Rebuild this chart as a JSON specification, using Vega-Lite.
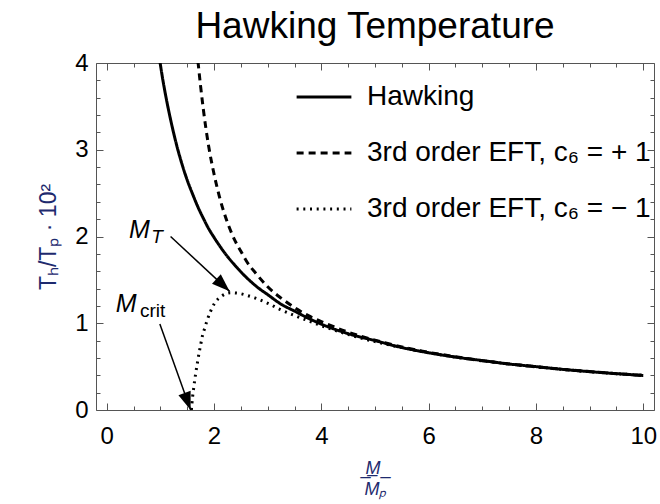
{
  "$schema": "https://vega.github.io/schema/vega-lite/v6.json",
  "width": 558,
  "height": 347,
  "autosize": {"type": "none"},
  "padding": {"left": 96, "top": 63, "right": 6, "bottom": 94},
  "background": "white",
  "title": {"text": "Hawking Temperature", "fontSize": 37, "font": "Liberation Sans", "fontWeight": "normal", "color": "black", "anchor": "middle", "frame": "group", "baseline": "alphabetic", "offset": -24},
  "config": {
    "view": {"stroke": "#555555", "strokeWidth": 1},
    "font": "Liberation Sans",
    "axis": {"grid": false, "domain": false, "tickColor": "#555555", "tickWidth": 1, "labelFont": "Liberation Sans", "labelFontSize": 24, "labelColor": "black", "labelOverlap": false, "labelFlush": false, "labelBound": false}
  },
  "datasets": {
    "curves": [
      {"M": 0.99, "T": 4.02, "series": "Hawking"},
      {"M": 1.05, "T": 3.79, "series": "Hawking"},
      {"M": 1.1, "T": 3.62, "series": "Hawking"},
      {"M": 1.2, "T": 3.32, "series": "Hawking"},
      {"M": 1.3, "T": 3.06, "series": "Hawking"},
      {"M": 1.4, "T": 2.84, "series": "Hawking"},
      {"M": 1.5, "T": 2.65, "series": "Hawking"},
      {"M": 1.6, "T": 2.49, "series": "Hawking"},
      {"M": 1.7, "T": 2.34, "series": "Hawking"},
      {"M": 1.8, "T": 2.21, "series": "Hawking"},
      {"M": 1.9, "T": 2.09, "series": "Hawking"},
      {"M": 2.0, "T": 1.99, "series": "Hawking"},
      {"M": 2.2, "T": 1.81, "series": "Hawking"},
      {"M": 2.4, "T": 1.66, "series": "Hawking"},
      {"M": 2.6, "T": 1.53, "series": "Hawking"},
      {"M": 2.8, "T": 1.42, "series": "Hawking"},
      {"M": 3.0, "T": 1.33, "series": "Hawking"},
      {"M": 3.25, "T": 1.22, "series": "Hawking"},
      {"M": 3.5, "T": 1.14, "series": "Hawking"},
      {"M": 3.75, "T": 1.06, "series": "Hawking"},
      {"M": 4.0, "T": 0.99, "series": "Hawking"},
      {"M": 4.5, "T": 0.88, "series": "Hawking"},
      {"M": 5.0, "T": 0.80, "series": "Hawking"},
      {"M": 5.5, "T": 0.72, "series": "Hawking"},
      {"M": 6.0, "T": 0.66, "series": "Hawking"},
      {"M": 6.5, "T": 0.61, "series": "Hawking"},
      {"M": 7.0, "T": 0.57, "series": "Hawking"},
      {"M": 7.5, "T": 0.53, "series": "Hawking"},
      {"M": 8.0, "T": 0.50, "series": "Hawking"},
      {"M": 8.5, "T": 0.468, "series": "Hawking"},
      {"M": 9.0, "T": 0.442, "series": "Hawking"},
      {"M": 9.5, "T": 0.419, "series": "Hawking"},
      {"M": 10.0, "T": 0.398, "series": "Hawking"},
      {"M": 1.70, "T": 4.02, "series": "3rd order EFT, c₆ = + 1"},
      {"M": 1.75, "T": 3.73, "series": "3rd order EFT, c₆ = + 1"},
      {"M": 1.80, "T": 3.47, "series": "3rd order EFT, c₆ = + 1"},
      {"M": 1.85, "T": 3.24, "series": "3rd order EFT, c₆ = + 1"},
      {"M": 1.90, "T": 3.04, "series": "3rd order EFT, c₆ = + 1"},
      {"M": 2.0, "T": 2.72, "series": "3rd order EFT, c₆ = + 1"},
      {"M": 2.1, "T": 2.46, "series": "3rd order EFT, c₆ = + 1"},
      {"M": 2.2, "T": 2.25, "series": "3rd order EFT, c₆ = + 1"},
      {"M": 2.3, "T": 2.08, "series": "3rd order EFT, c₆ = + 1"},
      {"M": 2.4, "T": 1.94, "series": "3rd order EFT, c₆ = + 1"},
      {"M": 2.5, "T": 1.83, "series": "3rd order EFT, c₆ = + 1"},
      {"M": 2.6, "T": 1.72, "series": "3rd order EFT, c₆ = + 1"},
      {"M": 2.8, "T": 1.56, "series": "3rd order EFT, c₆ = + 1"},
      {"M": 3.0, "T": 1.42, "series": "3rd order EFT, c₆ = + 1"},
      {"M": 3.25, "T": 1.29, "series": "3rd order EFT, c₆ = + 1"},
      {"M": 3.5, "T": 1.18, "series": "3rd order EFT, c₆ = + 1"},
      {"M": 3.75, "T": 1.09, "series": "3rd order EFT, c₆ = + 1"},
      {"M": 4.0, "T": 1.02, "series": "3rd order EFT, c₆ = + 1"},
      {"M": 4.5, "T": 0.897, "series": "3rd order EFT, c₆ = + 1"},
      {"M": 5.0, "T": 0.805, "series": "3rd order EFT, c₆ = + 1"},
      {"M": 5.5, "T": 0.727, "series": "3rd order EFT, c₆ = + 1"},
      {"M": 6.0, "T": 0.665, "series": "3rd order EFT, c₆ = + 1"},
      {"M": 6.5, "T": 0.614, "series": "3rd order EFT, c₆ = + 1"},
      {"M": 7.0, "T": 0.569, "series": "3rd order EFT, c₆ = + 1"},
      {"M": 7.5, "T": 0.531, "series": "3rd order EFT, c₆ = + 1"},
      {"M": 8.0, "T": 0.498, "series": "3rd order EFT, c₆ = + 1"},
      {"M": 8.5, "T": 0.469, "series": "3rd order EFT, c₆ = + 1"},
      {"M": 9.0, "T": 0.443, "series": "3rd order EFT, c₆ = + 1"},
      {"M": 9.5, "T": 0.419, "series": "3rd order EFT, c₆ = + 1"},
      {"M": 10.0, "T": 0.398, "series": "3rd order EFT, c₆ = + 1"},
      {"M": 1.578, "T": 0.0, "series": "3rd order EFT, c₆ = − 1"},
      {"M": 1.60, "T": 0.15, "series": "3rd order EFT, c₆ = − 1"},
      {"M": 1.614, "T": 0.22, "series": "3rd order EFT, c₆ = − 1"},
      {"M": 1.639, "T": 0.34, "series": "3rd order EFT, c₆ = − 1"},
      {"M": 1.663, "T": 0.44, "series": "3rd order EFT, c₆ = − 1"},
      {"M": 1.689, "T": 0.54, "series": "3rd order EFT, c₆ = − 1"},
      {"M": 1.719, "T": 0.65, "series": "3rd order EFT, c₆ = − 1"},
      {"M": 1.75, "T": 0.75, "series": "3rd order EFT, c₆ = − 1"},
      {"M": 1.782, "T": 0.85, "series": "3rd order EFT, c₆ = − 1"},
      {"M": 1.825, "T": 0.94, "series": "3rd order EFT, c₆ = − 1"},
      {"M": 1.875, "T": 1.04, "series": "3rd order EFT, c₆ = − 1"},
      {"M": 1.937, "T": 1.14, "series": "3rd order EFT, c₆ = − 1"},
      {"M": 2.01, "T": 1.23, "series": "3rd order EFT, c₆ = − 1"},
      {"M": 2.136, "T": 1.31, "series": "3rd order EFT, c₆ = − 1"},
      {"M": 2.31, "T": 1.352, "series": "3rd order EFT, c₆ = − 1"},
      {"M": 2.46, "T": 1.345, "series": "3rd order EFT, c₆ = − 1"},
      {"M": 2.62, "T": 1.32, "series": "3rd order EFT, c₆ = − 1"},
      {"M": 2.77, "T": 1.29, "series": "3rd order EFT, c₆ = − 1"},
      {"M": 2.93, "T": 1.25, "series": "3rd order EFT, c₆ = − 1"},
      {"M": 3.07, "T": 1.21, "series": "3rd order EFT, c₆ = − 1"},
      {"M": 3.21, "T": 1.165, "series": "3rd order EFT, c₆ = − 1"},
      {"M": 3.5, "T": 1.09, "series": "3rd order EFT, c₆ = − 1"},
      {"M": 3.75, "T": 1.03, "series": "3rd order EFT, c₆ = − 1"},
      {"M": 4.0, "T": 0.972, "series": "3rd order EFT, c₆ = − 1"},
      {"M": 4.5, "T": 0.871, "series": "3rd order EFT, c₆ = − 1"},
      {"M": 5.0, "T": 0.788, "series": "3rd order EFT, c₆ = − 1"},
      {"M": 5.5, "T": 0.72, "series": "3rd order EFT, c₆ = − 1"},
      {"M": 6.0, "T": 0.66, "series": "3rd order EFT, c₆ = − 1"},
      {"M": 6.5, "T": 0.61, "series": "3rd order EFT, c₆ = − 1"},
      {"M": 7.0, "T": 0.567, "series": "3rd order EFT, c₆ = − 1"},
      {"M": 7.5, "T": 0.53, "series": "3rd order EFT, c₆ = − 1"},
      {"M": 8.0, "T": 0.497, "series": "3rd order EFT, c₆ = − 1"},
      {"M": 8.5, "T": 0.468, "series": "3rd order EFT, c₆ = − 1"},
      {"M": 9.0, "T": 0.442, "series": "3rd order EFT, c₆ = − 1"},
      {"M": 9.5, "T": 0.419, "series": "3rd order EFT, c₆ = − 1"},
      {"M": 10.0, "T": 0.398, "series": "3rd order EFT, c₆ = − 1"}
    ],
    "arrows": [
      {"name": "MT", "x": 1.19, "y": 2.0, "x2": 2.29, "y2": 1.368},
      {"name": "Mcrit", "x": 0.99, "y": 0.99, "x2": 1.564, "y2": 0.0}
    ],
    "labels": [
      {"text": "M", "x": 0.415, "y": 1.983, "part": "main"},
      {"text": "T", "x": 0.83, "y": 1.928, "part": "subItalic"},
      {"text": "M", "x": 0.168, "y": 1.135, "part": "main"},
      {"text": "crit", "x": 0.62, "y": 1.077, "part": "sub"}
    ]
  },
  "layer": [
    {
      "data": {"name": "curves"},
      "mark": {"type": "line", "clip": true, "interpolate": "monotone", "strokeWidth": 3, "color": "black"},
      "encoding": {
        "x": {"field": "M", "type": "quantitative", "scale": {"domain": [-0.2, 10.2], "nice": false, "zero": false},
          "axis": {"orient": "bottom", "values": [0,0.5,1,1.5,2,2.5,3,3.5,4,4.5,5,5.5,6,6.5,7,7.5,8,8.5,9,9.5,10],
            "labelExpr": "datum.value % 2 === 0 ? format(datum.value, 'd') : ''",
            "tickSize": {"condition": {"test": "datum.value % 2 === 0", "value": -7}, "value": -4},
            "labelPadding": 21,
            "title": ["\u00a0\u0332M\u0332\u00a0\u0332", "Mₚ"], "titleFontSize": 18, "titleFontStyle": "italic", "titleFontWeight": "normal", "titleColor": "#1e2a6e", "titleLineHeight": 21, "titlePadding": 8}},
        "y": {"field": "T", "type": "quantitative", "scale": {"domain": [0, 4], "nice": false, "zero": false},
          "axis": {"orient": "left", "values": [0,0.2,0.4,0.6,0.8,1,1.2,1.4,1.6,1.8,2,2.2,2.4,2.6,2.8,3,3.2,3.4,3.6,3.8,4],
            "labelExpr": "abs(datum.value - round(datum.value)) < 0.001 ? format(datum.value, 'd') : ''",
            "tickSize": {"condition": {"test": "abs(datum.value - round(datum.value)) < 0.001", "value": -7}, "value": -4},
            "labelPadding": 15,
            "title": "Tₕ/Tₚ · 10²", "titleFontSize": 23, "titleFontWeight": "normal", "titleColor": "#1e2a6e", "titlePadding": 14}},
        "strokeDash": {"field": "series", "type": "nominal",
          "scale": {"domain": ["Hawking", "3rd order EFT, c₆ = + 1", "3rd order EFT, c₆ = − 1"], "range": [[1, 0], [7, 5], [2, 4.7]]},
          "legend": {"orient": "none", "legendX": 199, "legendY": 5, "title": null, "symbolType": "stroke", "symbolSize": 3000, "symbolStrokeWidth": 3, "symbolStrokeColor": "black", "labelFontSize": 28, "labelFont": "Liberation Sans", "labelColor": "black", "labelLimit": 400, "labelOffset": 14, "rowPadding": 13, "padding": 0}}
      }
    },
    {
      "data": {"name": "curves"},
      "mark": {"type": "point", "opacity": 0},
      "encoding": {
        "x": {"field": "M", "type": "quantitative", "scale": {"domain": [-0.2, 10.2], "nice": false, "zero": false},
          "axis": {"orient": "top", "labels": false, "title": null, "values": [0,0.5,1,1.5,2,2.5,3,3.5,4,4.5,5,5.5,6,6.5,7,7.5,8,8.5,9,9.5,10],
            "tickSize": {"condition": {"test": "datum.value % 2 === 0", "value": -7}, "value": -4}}},
        "y": {"field": "T", "type": "quantitative", "scale": {"domain": [0, 4], "nice": false, "zero": false},
          "axis": {"orient": "right", "labels": false, "title": null, "values": [0,0.2,0.4,0.6,0.8,1,1.2,1.4,1.6,1.8,2,2.2,2.4,2.6,2.8,3,3.2,3.4,3.6,3.8,4],
            "tickSize": {"condition": {"test": "abs(datum.value - round(datum.value)) < 0.001", "value": -7}, "value": -4}}}
      }
    },
    {
      "data": {"name": "arrows"},
      "mark": {"type": "rule", "strokeWidth": 1.5, "color": "black"},
      "encoding": {
        "x": {"field": "x", "type": "quantitative", "scale": {"domain": [-0.2, 10.2], "nice": false, "zero": false}, "axis": null},
        "y": {"field": "y", "type": "quantitative", "scale": {"domain": [0, 4], "nice": false, "zero": false}, "axis": null},
        "x2": {"field": "x2"},
        "y2": {"field": "y2"}
      }
    },
    {
      "data": {"name": "arrows"},
      "transform": [{"filter": "datum.name === 'MT'"}],
      "mark": {"type": "point", "shape": "M0,0L-0.36,1L0.36,1Z", "size": 1296, "filled": true, "color": "black", "opacity": 1, "angle": 132.8},
      "encoding": {
        "x": {"field": "x2", "type": "quantitative", "scale": {"domain": [-0.2, 10.2], "nice": false, "zero": false}, "axis": null},
        "y": {"field": "y2", "type": "quantitative", "scale": {"domain": [0, 4], "nice": false, "zero": false}, "axis": null}
      }
    },
    {
      "data": {"name": "arrows"},
      "transform": [{"filter": "datum.name === 'Mcrit'"}],
      "mark": {"type": "point", "shape": "M0,0L-0.36,1L0.36,1Z", "size": 1296, "filled": true, "color": "black", "opacity": 1, "angle": 160.2},
      "encoding": {
        "x": {"field": "x2", "type": "quantitative", "scale": {"domain": [-0.2, 10.2], "nice": false, "zero": false}, "axis": null},
        "y": {"field": "y2", "type": "quantitative", "scale": {"domain": [0, 4], "nice": false, "zero": false}, "axis": null}
      }
    },
    {
      "data": {"name": "labels"},
      "transform": [{"filter": "datum.part === 'main'"}],
      "mark": {"type": "text", "align": "left", "baseline": "alphabetic", "fontSize": 25, "fontStyle": "italic", "font": "Liberation Sans", "color": "black"},
      "encoding": {
        "x": {"field": "x", "type": "quantitative", "scale": {"domain": [-0.2, 10.2], "nice": false, "zero": false}, "axis": null},
        "y": {"field": "y", "type": "quantitative", "scale": {"domain": [0, 4], "nice": false, "zero": false}, "axis": null},
        "text": {"field": "text"}
      }
    },
    {
      "data": {"name": "labels"},
      "transform": [{"filter": "datum.part === 'subItalic'"}],
      "mark": {"type": "text", "align": "left", "baseline": "alphabetic", "fontSize": 19, "fontStyle": "italic", "font": "Liberation Sans", "color": "black"},
      "encoding": {
        "x": {"field": "x", "type": "quantitative", "scale": {"domain": [-0.2, 10.2], "nice": false, "zero": false}, "axis": null},
        "y": {"field": "y", "type": "quantitative", "scale": {"domain": [0, 4], "nice": false, "zero": false}, "axis": null},
        "text": {"field": "text"}
      }
    },
    {
      "data": {"name": "labels"},
      "transform": [{"filter": "datum.part === 'sub'"}],
      "mark": {"type": "text", "align": "left", "baseline": "alphabetic", "fontSize": 19, "font": "Liberation Sans", "color": "black"},
      "encoding": {
        "x": {"field": "x", "type": "quantitative", "scale": {"domain": [-0.2, 10.2], "nice": false, "zero": false}, "axis": null},
        "y": {"field": "y", "type": "quantitative", "scale": {"domain": [0, 4], "nice": false, "zero": false}, "axis": null},
        "text": {"field": "text"}
      }
    }
  ],
  "resolve": {"axis": {"x": "independent", "y": "independent"}}
}
